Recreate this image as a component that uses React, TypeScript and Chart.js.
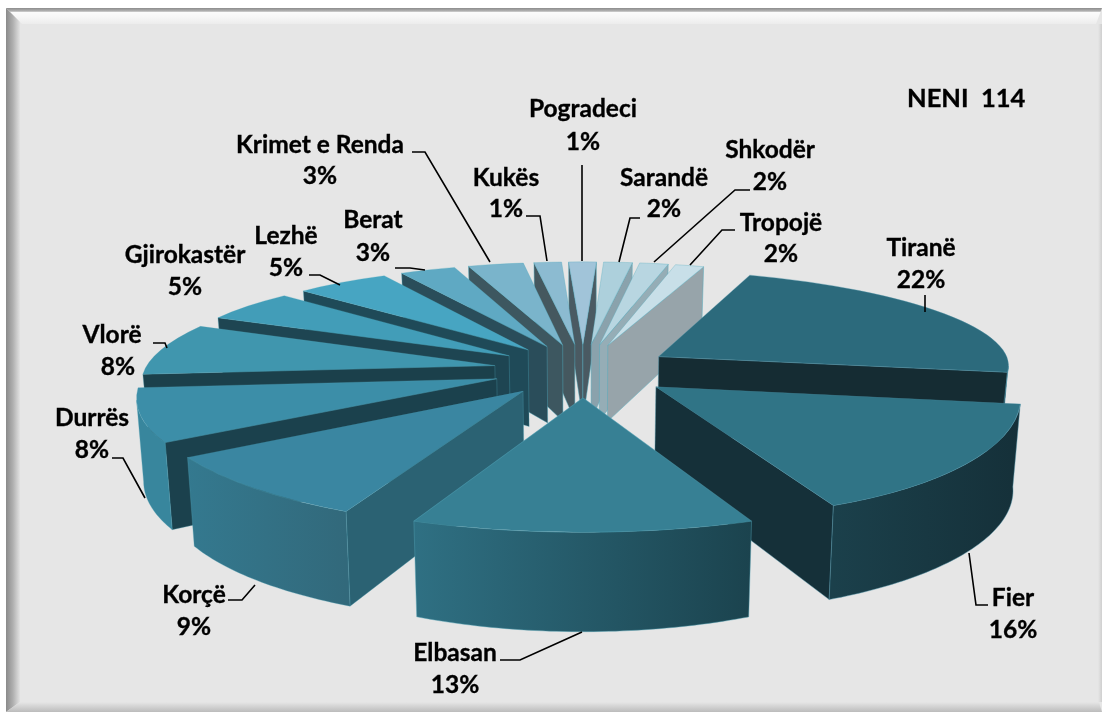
import React, { useEffect, useRef } from "react";
import { Chart, registerables } from "chart.js";

Chart.register(...registerables);

// ---- data ----
const categories = ["Tiranë", "Fier", "Elbasan", "Korçë", "Durrës", "Vlorë", "Gjirokastër", "Lezhë", "Berat", "Krimet e Renda", "Kukës", "Pogradeci", "Sarandë", "Shkodër", "Tropojë"];
const values = [22, 16, 13, 9.3, 7.8, 8, 5, 5, 3, 3, 1.49, 1.49, 1.55, 1.55, 1.55];
const percentLabels = ["22%", "16%", "13%", "9%", "8%", "8%", "5%", "5%", "3%", "3%", "1%", "1%", "2%", "2%", "2%"];
const chartTitle = "NENI  114";

// ---- styles ----
const topColors = ["#2c6a7c", "#307486", "#378094", "#3a86a1", "#3c8ea8", "#4096ae", "#429db8", "#47a5c2", "#5fa9c3", "#7ab4cb", "#8cbbd1", "#a1c4d9", "#add0dc", "#b8d6e1", "#c8dfe8"];
const sideColors = ["#152c33", "#153039", "#245668", "#2b6273", "#1b414d", "#1b404b", "#1e4552", "#1f4a58", "#2a4d5a", "#3d5760", "#45585f", "#4a5a62", "#8aa2ac", "#95adb6", "#97a4aa"];
const rimLeft = ["#152c33", "#1b404b", "#2f7083", "#34798f", "#38869d", "#38869d", "#3c8ea8", "#3c8ea8", "#5fa9c3", "#7ab4cb", "#8cbbd1", "#a1c4d9", "#add0dc", "#b8d6e1", "#c8dfe8"];
const rimRight = ["#152c33", "#153039", "#1b434e", "#32697b", "#38869d", "#38869d", "#3c8ea8", "#3c8ea8", "#5fa9c3", "#7ab4cb", "#8cbbd1", "#a1c4d9", "#add0dc", "#b8d6e1", "#c8dfe8"];
const edgeColors = ["rgba(80,150,170,.55)", "rgba(80,150,170,.55)", "rgba(80,160,180,.55)", "rgba(80,160,180,.4)", "rgba(80,160,180,.4)", "rgba(80,160,180,.4)", "rgba(80,170,190,.4)", "rgba(80,170,190,.4)", "rgba(80,170,190,.5)", "rgba(80,170,190,.6)", "rgba(80,170,190,.6)", "rgba(80,170,190,.6)", "rgba(80,170,190,.6)", "rgba(80,170,190,.6)", "rgba(80,170,190,.6)"];

// ---- perspective camera ----
const CX = 583, CY = 370, MODEL_R = 350, EXPLODE = 90, PERSP_X = 0.000425, PERSP_Y = 0.00047, TILT = 0.2966, DEPTH = 79, BOTTOM_SHRINK = 0.983;

type Pt = { x: number; y: number };
const project = (X: number, Y: number, low: boolean): Pt => {
  const kx = 1 / (1 - PERSP_X * Y);
  const ky = 1 / (1 - PERSP_Y * Y);
  return {
    x: CX + X * kx * (low ? BOTTOM_SHRINK : 1),
    y: CY + TILT * Y * ky + (low ? DEPTH * kx : 0),
  };
};

// ---- label layout: text centres and leader polylines ----
const labelLayout: { x: number; y: number; px?: number; py: number; line?: number[][] }[] = [
  { x: 921, y: 248, py: 280, line: [[925, 295], [925, 312]] },
  { x: 1013, y: 598, py: 630, line: [[988, 605], [976, 605], [969, 553]] },
  { x: 455, y: 653, py: 685, line: [[500, 660], [520, 660], [582, 632]] },
  { x: 194, y: 595, py: 627, line: [[228, 600], [242, 600], [255, 585]] },
  { x: 92, y: 418, py: 450, line: [[112, 458], [123, 458], [145, 498]] },
  { x: 112, y: 335, px: 118, py: 367, line: [[153, 343], [165, 343], [167, 348]] },
  { x: 185, y: 255, py: 287 },
  { x: 286, y: 236, py: 268, line: [[309, 275], [320, 275], [340, 285]] },
  { x: 373, y: 220, py: 253, line: [[395, 268], [410, 268], [425, 270]] },
  { x: 320, y: 145, py: 176, line: [[412, 152], [425, 152], [490, 262]] },
  { x: 506, y: 178, py: 209, line: [[526, 216], [540, 216], [547, 261]] },
  { x: 583, y: 109, py: 142, line: [[582, 165], [582, 261]] },
  { x: 664, y: 178, py: 209, line: [[640, 218], [630, 218], [619, 262]] },
  { x: 770, y: 150, py: 182, line: [[750, 190], [735, 190], [654, 262]] },
  { x: 781, y: 223, py: 254, line: [[735, 230], [722, 230], [690, 265]] },
];

const FONT = "bold 24.5px Lato, 'Open Sans', sans-serif";
const TITLE_FONT = "bold 25.5px Lato, 'Open Sans', sans-serif";

const drawFrame = (ctx: CanvasRenderingContext2D, W: number, H: number) => {
  ctx.save();
  ctx.fillStyle = "#ffffff";
  ctx.fillRect(0, 0, W, H);
  ctx.fillStyle = "#e6e6e6";
  ctx.fillRect(6, 8, W - 6, H - 8);
  let g = ctx.createLinearGradient(0, 8, 0, 24);
  g.addColorStop(0, "#8c8c8c");
  g.addColorStop(0.2, "#b4b4b4");
  g.addColorStop(0.28, "#fbfbfb");
  g.addColorStop(0.6, "#f6f6f6");
  g.addColorStop(1, "#ececec");
  ctx.fillStyle = g;
  ctx.beginPath();
  ctx.moveTo(6, 8); ctx.lineTo(W, 8); ctx.lineTo(W - 6, 24); ctx.lineTo(22, 24);
  ctx.closePath(); ctx.fill();
  g = ctx.createLinearGradient(6, 0, 20, 0);
  g.addColorStop(0, "#8a8a8a");
  g.addColorStop(0.5, "#b0b0b0");
  g.addColorStop(1, "#e2e2e2");
  ctx.fillStyle = g;
  ctx.beginPath();
  ctx.moveTo(6, 8); ctx.lineTo(20, 22); ctx.lineTo(20, H - 10); ctx.lineTo(6, H);
  ctx.closePath(); ctx.fill();
  g = ctx.createLinearGradient(0, H - 10, 0, H);
  g.addColorStop(0, "#e6e6e6");
  g.addColorStop(1, "#bcbcbc");
  ctx.fillStyle = g;
  ctx.beginPath();
  ctx.moveTo(6, H); ctx.lineTo(20, H - 10); ctx.lineTo(W - 3, H - 10); ctx.lineTo(W, H);
  ctx.closePath(); ctx.fill();
  g = ctx.createLinearGradient(W - 4, 0, W, 0);
  g.addColorStop(0, "#e6e6e6");
  g.addColorStop(1, "#cfcfcf");
  ctx.fillStyle = g;
  ctx.fillRect(W - 4, 24, 4, H - 34);
  ctx.restore();
};

const fillPoly = (ctx: CanvasRenderingContext2D, pts: Pt[], fill: string | CanvasGradient, edge: string) => {
  ctx.beginPath();
  pts.forEach((p, i) => (i ? ctx.lineTo(p.x, p.y) : ctx.moveTo(p.x, p.y)));
  ctx.closePath();
  ctx.fillStyle = fill;
  ctx.fill();
  ctx.strokeStyle = edge;
  ctx.lineWidth = 0.8;
  ctx.stroke();
};

const pie3d = {
  id: "pie3d",
  beforeDraw(chart: any) {
    drawFrame(chart.ctx, chart.width, chart.height);
  },
  beforeDatasetsDraw(chart: any) {
    const ctx: CanvasRenderingContext2D = chart.ctx;
    const arcs: any[] = chart.getDatasetMeta(0).data;
    const order = arcs
      .map((a, i) => ({ i, depth: Math.sin((a.startAngle + a.endAngle) / 2) }))
      .sort((p, q) => p.depth - q.depth);
    for (const { i } of order) {
      const arc = arcs[i];
      const s = arc.startAngle, e = arc.endAngle, mid = (s + e) / 2;
      const ex = EXPLODE * Math.cos(mid), ey = EXPLODE * Math.sin(mid);
      const lowRim = (t: number) =>
        project(ex + MODEL_R * Math.cos(t), ey + MODEL_R * Math.sin(t), true);
      const A = project(ex, ey, false), A2 = project(ex, ey, true);
      const P0 = project(ex + MODEL_R * Math.cos(s), ey + MODEL_R * Math.sin(s), false);
      const P1 = project(ex + MODEL_R * Math.cos(e), ey + MODEL_R * Math.sin(e), false);
      const edge = edgeColors[i];

      // affine map that puts the library's arc on the slice's three projected corners
      const R = arc.outerRadius;
      const u0 = [R * Math.cos(s), R * Math.sin(s)], u1 = [R * Math.cos(e), R * Math.sin(e)];
      const v0 = [P0.x - A.x, P0.y - A.y], v1 = [P1.x - A.x, P1.y - A.y];
      const det = u0[0] * u1[1] - u1[0] * u0[1];
      const a = (v0[0] * u1[1] - v1[0] * u0[1]) / det;
      const c = (v1[0] * u0[0] - v0[0] * u1[0]) / det;
      const b = (v0[1] * u1[1] - v1[1] * u0[1]) / det;
      const d = (v1[1] * u0[0] - v0[1] * u1[0]) / det;
      const topRim = (t: number): Pt => {
        const ux = R * Math.cos(t), uy = R * Math.sin(t);
        return { x: A.x + a * ux + c * uy, y: A.y + b * ux + d * uy };
      };

      // radial faces
      if (P0.x < A.x) fillPoly(ctx, [A, P0, lowRim(s), A2], sideColors[i], edge);
      if (A.x < P1.x) fillPoly(ctx, [P1, A, A2, lowRim(e)], sideColors[i], edge);
      // curved rim: the part that runs leftwards on screen faces the viewer
      const steps = Math.max(8, Math.round(((e - s) * 180) / Math.PI));
      const top: Pt[] = [], low: Pt[] = [];
      for (let n = 0; n <= steps; n++) {
        const t = s + ((e - s) * n) / steps;
        const p = topRim(t);
        const next = topRim(t + 0.002);
        if (next.x < p.x) { top.push(p); low.push(lowRim(t)); }
      }
      if (top.length > 1) {
        const xs = top.map((p) => p.x);
        const g = ctx.createLinearGradient(Math.min(...xs), 0, Math.max(...xs), 0);
        g.addColorStop(0, rimLeft[i]);
        g.addColorStop(1, rimRight[i]);
        fillPoly(ctx, [...top, ...low.reverse()], g, edge);
      }
      // top face
      ctx.save();
      ctx.transform(a, b, c, d, A.x - (a * arc.x + c * arc.y), A.y - (b * arc.x + d * arc.y));
      arc.draw(ctx);
      ctx.restore();
    }
    return false;
  },
  afterDraw(chart: any) {
    const ctx: CanvasRenderingContext2D = chart.ctx;
    ctx.save();
    ctx.font = FONT;
    ctx.fillStyle = "#000000";
    ctx.strokeStyle = "#000000";
    ctx.textAlign = "center";
    ctx.textBaseline = "middle";
    const write = (text: string, x: number, y: number) => {
      ctx.lineWidth = 0.35;
      ctx.fillText(text, x, y);
      ctx.strokeText(text, x, y);
    };
    categories.forEach((name, i) => {
      const l = labelLayout[i];
      write(name, l.x, l.y);
      write(percentLabels[i], l.px ?? l.x, l.py);
      if (l.line) {
        ctx.lineWidth = 1.6;
        ctx.beginPath();
        l.line.forEach(([x, y], n) => (n ? ctx.lineTo(x, y) : ctx.moveTo(x, y)));
        ctx.stroke();
      }
    });
    ctx.textAlign = "left";
    ctx.font = TITLE_FONT;
    write(chartTitle, 907, 99);
    ctx.restore();
  },
};

export default function App() {
  const ref = useRef<HTMLCanvasElement>(null);
  useEffect(() => {
    const chart = new Chart(ref.current!, {
      type: "pie",
      data: {
        labels: categories,
        datasets: [{
          data: values,
          backgroundColor: topColors,
          borderColor: edgeColors,
          borderWidth: 1,
        }],
      },
      options: {
        responsive: false,
        animation: false,
        rotation: 19.4,
        layout: { padding: 0 },
        plugins: { legend: { display: false }, tooltip: { enabled: false } },
      },
      plugins: [pie3d],
    } as any);
    return () => chart.destroy();
  }, []);
  return (
    <canvas
      ref={ref}
      width={1102}
      height={712}
      style={{ position: "fixed", left: 0, top: 0, display: "block", width: 1102, height: 712 }}
    />
  );
}
